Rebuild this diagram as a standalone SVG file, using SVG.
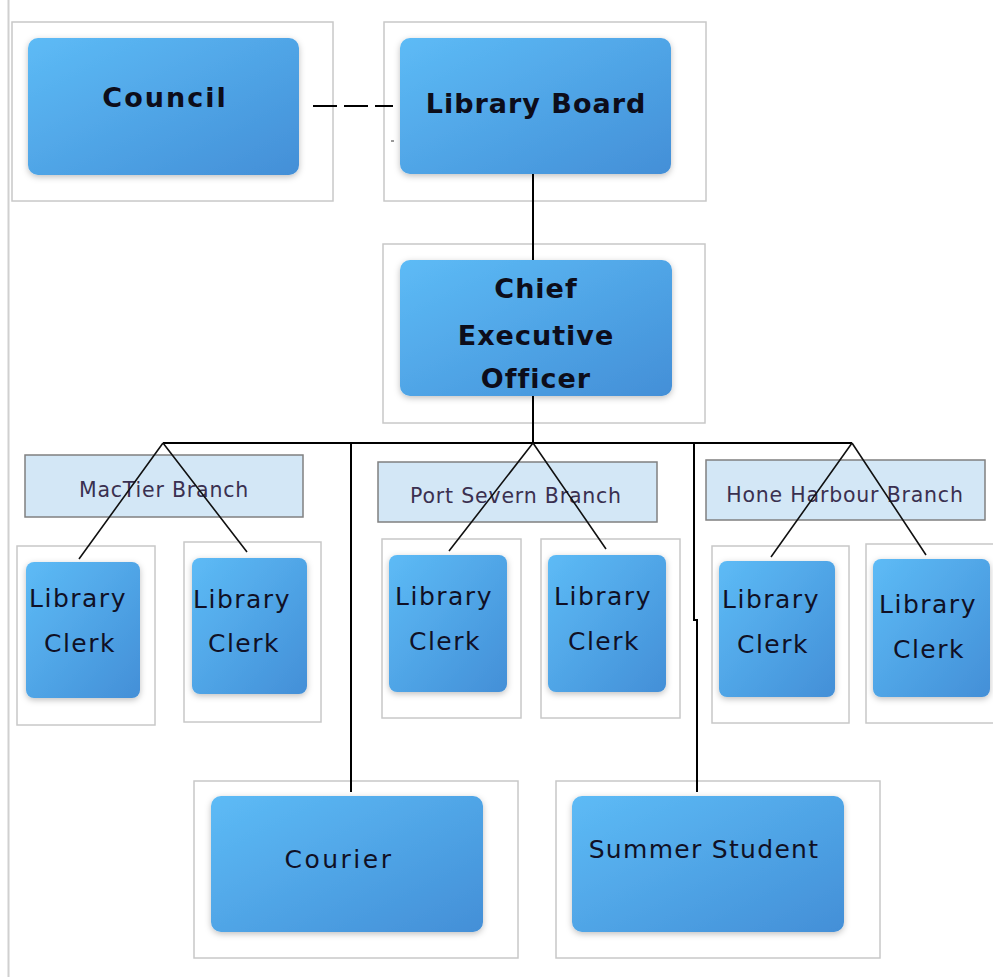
<svg xmlns="http://www.w3.org/2000/svg" width="993" height="977" viewBox="0 0 993 977">
<defs>
<linearGradient id="blue" x1="0" y1="0" x2="1" y2="1">
<stop offset="0" stop-color="#5dbbf6"/>
<stop offset="1" stop-color="#438fd7"/>
</linearGradient>
<filter id="sh" x="-20%" y="-20%" width="140%" height="140%">
<feDropShadow dx="0" dy="2" stdDeviation="3" flood-color="#000" flood-opacity="0.25"/>
</filter>
<style>
.frame{fill:none;stroke:#c8c8c8;stroke-width:1.5}
.box{fill:url(#blue);filter:url(#sh)}
.branch{fill:#d3e7f6;stroke:#808080;stroke-width:1.5}
.bt{font-family:"DejaVu Sans",sans-serif;font-weight:bold;font-size:27px;fill:#0d0d1a;text-anchor:middle;letter-spacing:1px}
.nt{font-family:"DejaVu Sans",sans-serif;font-size:25px;fill:#101025;text-anchor:middle;letter-spacing:1.5px}
.lt{font-family:"DejaVu Sans",sans-serif;font-size:20.5px;fill:#3a3050;text-anchor:middle;letter-spacing:0.8px}
.ln{stroke:#000;stroke-width:2;fill:none}
.dg{stroke:#111;stroke-width:1.6;fill:none}
</style>
</defs>
<rect width="993" height="977" fill="#fff"/>
<line x1="8.5" y1="0" x2="8.5" y2="977" stroke="#d0d0d0" stroke-width="2"/>

<g id="council">
<rect class="frame" x="12" y="22" width="321" height="179"/>
<rect class="box" x="28" y="38" width="271" height="137" rx="10"/>
<text class="bt" x="165" y="107" style="letter-spacing:2px">Council</text>
</g>

<g id="library-board">
<rect class="frame" x="384" y="22" width="322" height="179"/>
<rect class="box" x="400" y="38" width="271" height="136" rx="10"/>
<text class="bt" x="536" y="113">Library Board</text>
</g>

<g id="ceo">
<rect class="frame" x="383" y="244" width="322" height="179"/>
<rect class="box" x="400" y="260" width="272" height="136" rx="10"/>
<text class="bt" x="536" y="298">Chief</text>
<text class="bt" x="536" y="345">Executive</text>
<text class="bt" x="536" y="388">Officer</text>
</g>

<g id="mactier-branch">
<rect class="branch" x="25" y="455" width="278" height="62"/>
<text class="lt" x="164" y="497">MacTier Branch</text>
</g>
<g id="port-severn-branch">
<rect class="branch" x="378" y="462" width="279" height="60"/>
<text class="lt" x="516" y="503">Port Severn Branch</text>
</g>
<g id="hone-harbour-branch">
<rect class="branch" x="706" y="460" width="279" height="60"/>
<text class="lt" x="845" y="502">Hone Harbour Branch</text>
</g>

<g id="clerk1">
<rect class="frame" x="17" y="546" width="138" height="179"/>
<rect class="box" x="26" y="562" width="114" height="136" rx="8"/>
<text class="nt" x="78" y="607">Library</text>
<text class="nt" x="80" y="652">Clerk</text>
</g>
<g id="clerk2">
<rect class="frame" x="184" y="542" width="137" height="180"/>
<rect class="box" x="192" y="558" width="115" height="136" rx="8"/>
<text class="nt" x="242" y="608">Library</text>
<text class="nt" x="244" y="652">Clerk</text>
</g>
<g id="clerk3">
<rect class="frame" x="382" y="539" width="139" height="179"/>
<rect class="box" x="389" y="555" width="118" height="137" rx="8"/>
<text class="nt" x="444" y="605">Library</text>
<text class="nt" x="445" y="650">Clerk</text>
</g>
<g id="clerk4">
<rect class="frame" x="541" y="539" width="139" height="179"/>
<rect class="box" x="548" y="555" width="118" height="137" rx="8"/>
<text class="nt" x="603" y="605">Library</text>
<text class="nt" x="604" y="650">Clerk</text>
</g>
<g id="clerk5">
<rect class="frame" x="712" y="546" width="137" height="177"/>
<rect class="box" x="719" y="561" width="116" height="136" rx="8"/>
<text class="nt" x="771" y="608">Library</text>
<text class="nt" x="773" y="653">Clerk</text>
</g>
<g id="clerk6">
<rect class="frame" x="866" y="544" width="130" height="179"/>
<rect class="box" x="873" y="559" width="117" height="138" rx="8"/>
<text class="nt" x="928" y="613">Library</text>
<text class="nt" x="929" y="658">Clerk</text>
</g>

<g id="courier">
<rect class="frame" x="194" y="781" width="324" height="177"/>
<rect class="box" x="211" y="796" width="272" height="136" rx="10"/>
<text class="nt" x="339" y="868" style="letter-spacing:2.5px">Courier</text>
</g>
<g id="summer-student">
<rect class="frame" x="556" y="781" width="324" height="177"/>
<rect class="box" x="572" y="796" width="272" height="136" rx="10"/>
<text class="nt" x="704" y="858" style="letter-spacing:1.3px">Summer Student</text>
</g>

<g id="connectors">
<path class="ln" d="M313 106H393" stroke-dasharray="24 7"/>
<rect x="391" y="140" width="3" height="2" fill="#999"/>
<path class="ln" d="M533 174V260"/>
<path class="ln" d="M533 396V443"/>
<path class="ln" d="M163 443H852"/>
<path class="ln" d="M351 443V792"/>
<path class="ln" d="M694 443V620H697V792"/>
<path class="dg" d="M163 443L79 559M163 443L247 552"/>
<path class="dg" d="M533 443L449 551M533 443L606 549"/>
<path class="dg" d="M852 443L771 557M852 443L926 555"/>
</g>
</svg>
